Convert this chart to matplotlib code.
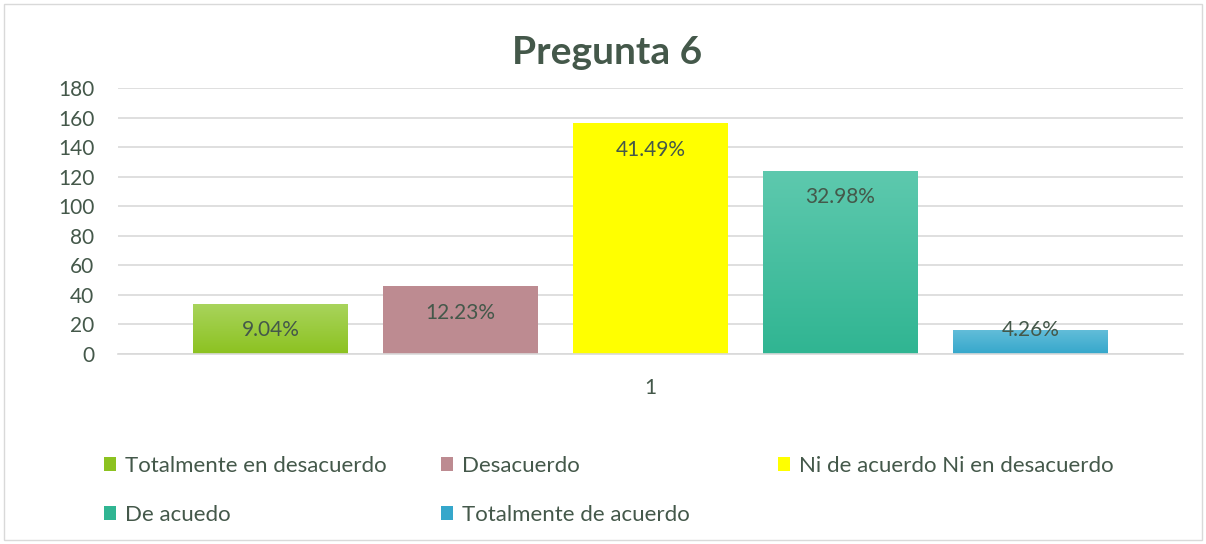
import numpy as np
import matplotlib.pyplot as plt
from matplotlib.patches import Rectangle, Patch
from matplotlib.colors import LinearSegmentedColormap

plt.rcParams['font.family'] = ['Lato', 'DejaVu Sans']

# data
categories = ["1"]
series = ["Totalmente en desacuerdo", "Desacuerdo", "Ni de acuerdo Ni en desacuerdo",
          "De acuedo", "Totalmente de acuerdo"]
values = [34, 46, 156, 124, 16]
labels = ["9.04%", "12.23%", "41.49%", "32.98%", "4.26%"]

# (top colour, bottom colour) - same twice means flat fill
colors = [("#a9d45d", "#8cc220"), ("#bd8b91", "#bd8b91"), ("#ffff00", "#ffff00"),
          ("#5ec9ae", "#30b592"), ("#62bdd9", "#35a7cb")]

text_col = "#44584a"
grid_col = "#d9d9d9"

fig = plt.figure(figsize=(12.06, 5.44), dpi=100)
ax = fig.add_axes([118 / 1206, 1 - 354 / 544, (1183 - 118) / 1206, (354 - 88) / 544])

step = 190 / 1065
width = 155 / 1065
for i, (v, c) in enumerate(zip(values, colors)):
    x = (i - 2) * step
    bar = ax.bar(x, v, width=width, color=c[1], zorder=2)[0]
    if c[0] != c[1]:
        cmap = LinearSegmentedColormap.from_list("g", [c[1], c[0]])
        grad = np.linspace(0, 1, 256).reshape(-1, 1)
        im = ax.imshow(grad, cmap=cmap, origin="lower", aspect="auto",
                       extent=[x - width / 2, x + width / 2, 0, v], zorder=2.5)
        im.set_clip_path(bar)
    ax.text(x, max(v - 18, 16), labels[i], ha="center", va="center",
            fontsize=15, color=text_col, zorder=3)

ax.set_xlim(-0.5, 0.5)
ax.set_ylim(0, 180)
ax.set_yticks(range(0, 181, 20))
ax.set_xticks([0])
ax.set_xticklabels(categories)
ax.yaxis.grid(True, color=grid_col, linewidth=1.2, zorder=0)
ax.set_axisbelow(True)
for s in ["left", "right", "top"]:
    ax.spines[s].set_visible(False)
ax.spines["bottom"].set_color(grid_col)
ax.spines["bottom"].set_linewidth(1.2)
ax.tick_params(axis="both", length=0, labelsize=15, labelcolor=text_col)
ax.tick_params(axis="x", pad=17)
ax.tick_params(axis="y", pad=17)

fig.text(607 / 1206, 1 - 53 / 544, "Pregunta 6", ha="center", va="center",
         fontsize=28, fontweight="bold", color=text_col)

# legend, 3 columns laid out like Excel
handles = [Patch(facecolor=c[1]) for c in colors]
col_x = [104, 441, 778]
for j in range(3):
    idx = [k for k in (j, j + 3) if k < len(series)]
    fig.legend([handles[k] for k in idx], [series[k] for k in idx],
               loc="upper left", bbox_to_anchor=(col_x[j] / 1206, 1 - 456 / 544),
               frameon=False, fontsize=16, labelcolor=text_col,
               handlelength=0.55, handleheight=0.55, handletextpad=0.4,
               labelspacing=1.3, borderaxespad=0, borderpad=0)

fig.add_artist(Rectangle((4 / 1206, 4 / 544), 1198 / 1206, 536 / 544,
                         transform=fig.transFigure, fill=False,
                         edgecolor=grid_col, linewidth=1))

fig.savefig("out.png", dpi=100)
